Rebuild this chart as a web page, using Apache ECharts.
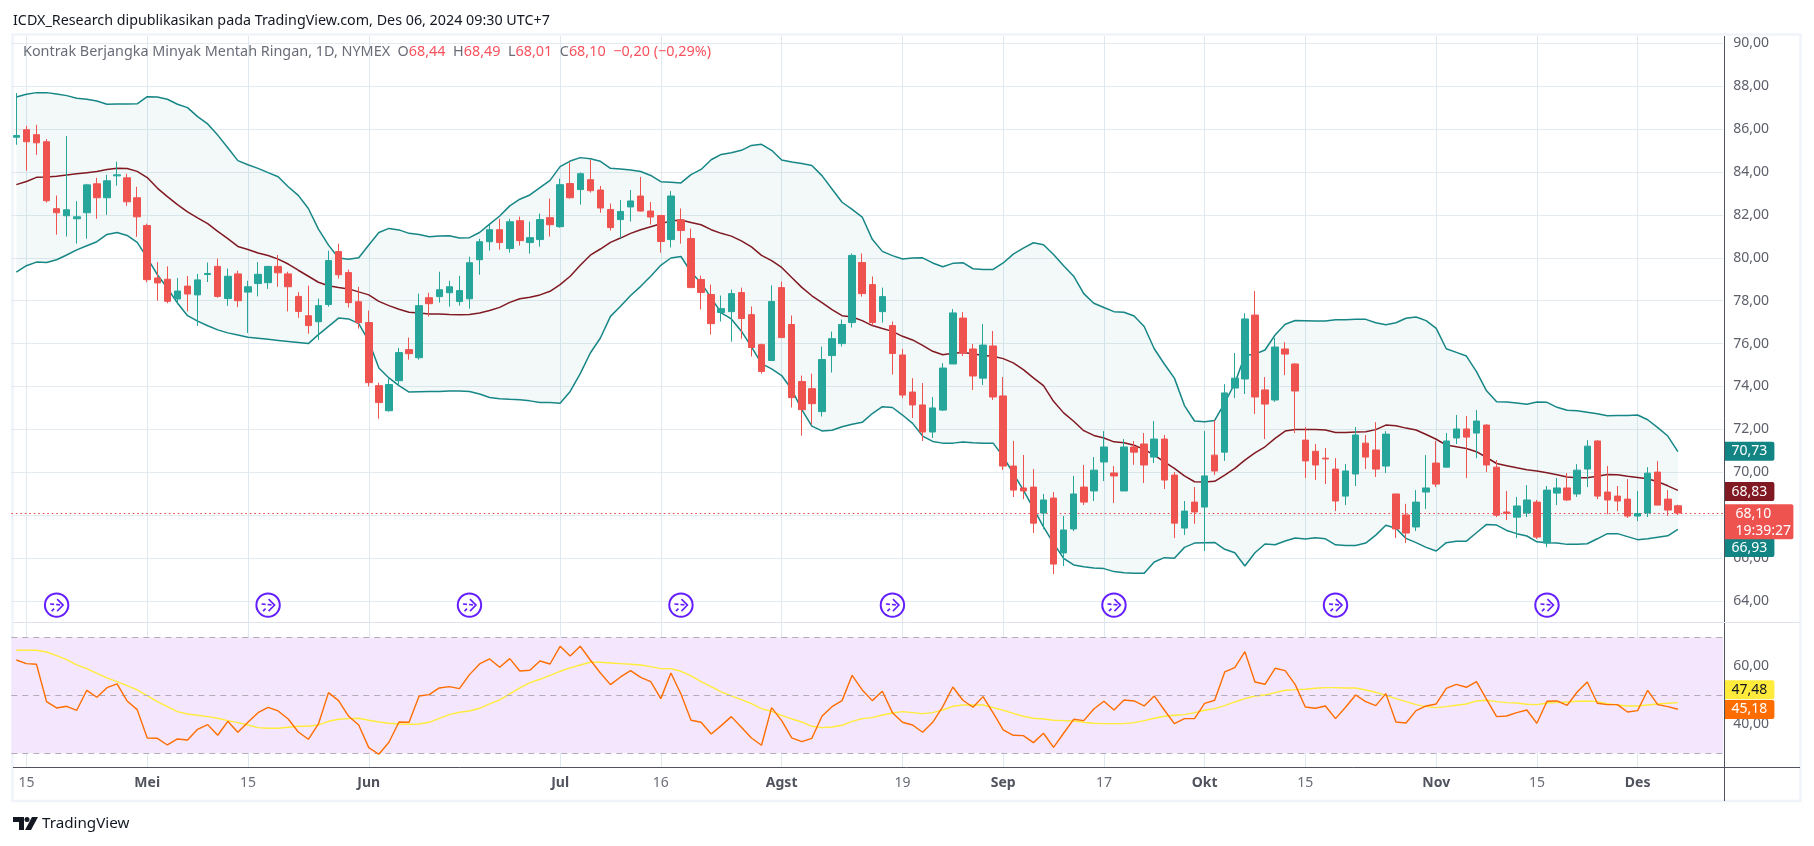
<!DOCTYPE html>
<html><head><meta charset="utf-8">
<style>html,body{margin:0;padding:0;background:#fff}#c{width:1814px;height:846px}</style>
<script src="https://cdn.jsdelivr.net/npm/echarts@6/dist/echarts.min.js"></script>
</head><body><div id="c"></div>
<script>
const opens=[85.62,85.97,85.74,85.41,82.29,81.96,81.82,82.1,83.45,82.8,
83.82,83.73,82.8,81.5,79.06,79.0,78.08,78.68,78.27,79.22,
79.6,78.1,79.25,78.4,78.8,78.84,79.6,79.25,78.2,77.3,
77.02,77.82,80.29,79.31,77.95,76.98,74.04,72.87,74.27,75.72,
75.34,78.14,78.19,78.37,77.96,78.09,79.91,80.75,81.31,80.43,
81.73,80.71,80.85,81.87,81.45,83.46,83.18,83.64,83.16,82.25,
81.78,82.37,82.88,82.18,81.97,80.85,81.77,80.9,78.99,78.29,
77.45,77.49,78.38,77.35,75.95,75.21,78.61,76.89,74.23,73.9,
72.83,75.44,76.0,76.98,79.78,78.75,77.49,76.84,75.47,73.74,
73.14,71.88,72.9,75.05,77.19,75.75,74.39,75.89,73.56,70.29,
69.27,69.31,68.1,68.8,66.24,67.36,69.31,69.13,70.48,69.97,
69.13,71.18,71.32,70.71,71.55,69.87,67.4,68.61,68.38,70.8,
70.94,73.93,74.35,77.33,73.84,73.37,75.75,75.05,71.5,70.98,
70.66,70.15,68.89,69.92,71.36,71.04,70.29,68.99,68.01,67.45,
69.08,70.43,70.24,71.6,72.02,71.83,72.2,70.24,68.15,67.91,
68.1,68.61,66.7,69.03,69.27,68.99,70.15,71.46,69.08,68.89,
68.75,67.96,68.1,70.01,68.75,68.44];
const closes=[85.7,85.41,85.36,82.66,82.1,82.24,81.91,83.4,82.8,83.59,
83.87,82.61,81.91,78.98,78.83,77.97,78.45,78.31,78.97,79.27,
78.2,79.14,78.0,78.65,79.23,79.6,79.3,78.65,77.5,76.84,
77.77,79.87,79.21,77.91,76.98,74.18,73.25,74.09,75.58,75.53,
77.77,77.86,78.51,78.65,78.47,79.77,80.75,81.31,80.71,81.68,
80.8,80.94,81.78,81.54,83.41,82.8,83.92,83.13,82.32,81.41,
82.16,82.65,82.18,81.9,80.76,82.88,81.27,78.61,78.38,76.93,
77.63,78.33,77.17,75.82,74.7,77.96,76.28,73.48,72.92,73.2,
75.26,76.23,76.89,80.11,78.33,76.98,78.19,75.54,73.6,73.14,
71.88,73.0,74.86,77.43,75.56,74.49,75.93,73.51,70.29,69.17,
69.13,67.63,68.71,65.72,67.31,68.99,68.61,70.1,71.18,69.83,
71.18,70.94,70.34,71.55,69.64,67.63,68.19,68.15,69.83,70.06,
73.7,74.39,77.15,73.51,73.18,75.84,75.51,73.79,70.53,70.34,
70.62,68.66,70.06,71.74,70.71,70.15,71.78,67.36,67.17,68.61,
69.27,69.45,71.46,72.02,71.64,72.39,70.34,68.0,68.08,68.43,
68.71,66.98,69.17,69.27,68.71,70.1,71.22,68.89,68.71,68.66,
67.96,68.08,69.96,68.47,68.24,68.10];
const highs=[87.68,86.15,86.2,85.53,82.9,85.68,82.64,83.45,83.73,83.87,
84.48,83.92,83.31,81.59,79.8,79.6,79.06,79.15,79.25,79.78,
79.96,79.5,79.4,78.93,79.8,79.62,80.13,79.35,78.4,78.7,
78.1,80.33,80.66,79.45,78.65,77.54,74.18,74.37,75.8,76.28,
78.33,78.37,79.35,78.93,79.16,80.05,80.89,81.54,81.82,81.82,
81.92,81.68,82.06,82.76,83.69,84.44,83.97,84.57,83.35,82.53,
82.69,83.16,83.77,82.6,82.0,83.11,82.3,81.36,79.17,78.75,
78.24,78.52,78.61,77.73,76.0,78.71,78.89,77.31,74.51,74.6,
75.86,76.56,77.12,80.2,80.2,79.13,78.61,77.03,75.75,74.39,
74.16,73.51,75.09,77.61,77.47,75.98,76.91,76.59,74.44,71.46,
70.81,70.15,68.99,69.08,67.96,69.83,70.34,70.71,71.92,70.29,
71.55,71.46,71.83,72.39,71.74,70.01,68.66,69.31,71.92,72.43,
74.11,75.56,77.42,78.45,74.44,76.26,76.07,75.09,72.11,71.32,
71.13,70.66,70.39,72.11,71.74,72.34,71.92,68.99,68.53,69.17,
70.8,71.46,71.83,72.67,72.62,72.9,72.25,70.57,69.13,68.85,
69.4,68.71,69.36,69.73,69.96,70.38,71.5,71.5,70.29,69.36,
69.68,69.13,70.24,70.52,69.17,68.49];
const lows=[85.27,84.06,84.8,82.57,81.08,80.99,80.66,80.89,81.82,82.0,
83.36,82.42,80.98,78.86,78.0,77.88,77.83,77.5,76.83,78.87,
78.14,77.76,77.7,76.5,78.2,78.55,78.65,77.5,77.2,76.46,
76.18,77.72,79.03,77.68,76.7,74.0,72.5,72.83,74.08,75.25,
75.25,77.26,77.91,77.72,77.77,77.63,79.21,80.33,80.38,80.24,
80.57,80.19,80.52,80.99,81.4,82.76,82.48,83.04,82.1,81.27,
80.9,81.69,82.15,81.55,80.24,80.48,80.66,78.6,77.59,76.42,
77.03,76.09,76.23,75.4,74.6,75.2,76.28,73.02,71.71,72.23,
72.6,74.65,75.86,76.75,78.19,76.84,76.98,74.56,73.46,72.53,
71.46,71.6,72.86,75.05,75.42,73.84,74.07,73.37,70.11,68.85,
68.75,67.17,67.35,65.26,65.63,67.26,68.47,68.66,69.59,68.57,
69.13,70.35,69.5,70.43,69.22,66.93,67.08,67.6,66.33,69.87,
70.53,73.46,73.65,72.72,71.55,73.28,74.53,71.83,69.73,69.64,
69.45,68.19,68.47,69.36,70.15,69.78,69.97,66.94,66.7,67.26,
68.29,69.31,70.24,71.32,69.73,70.66,70.01,67.91,67.77,66.93,
67.91,66.89,66.51,68.47,68.66,68.85,69.31,68.75,68.05,68.19,
67.87,67.73,67.91,68.47,67.96,68.01];
const bbUpper=[87.5,87.62,87.7,87.7,87.64,87.56,87.44,87.39,87.31,87.16,
87.17,87.17,87.18,87.51,87.5,87.39,87.16,87.0,86.58,86.24,
85.72,85.13,84.53,84.34,84.17,83.97,83.78,83.31,82.91,82.3,
81.34,80.59,79.99,79.93,80.0,80.6,81.18,81.37,81.3,81.14,
81.09,80.98,81.02,81.03,80.92,80.94,81.18,81.57,81.95,82.42,
82.73,82.93,83.27,83.61,84.25,84.51,84.67,84.62,84.5,84.17,
84.14,84.09,84.02,83.84,83.55,83.52,83.49,83.88,84.12,84.57,
84.82,84.9,85.01,85.24,85.29,85.01,84.56,84.47,84.4,84.3,
83.83,83.21,82.59,82.26,81.9,80.86,80.3,80.1,79.94,79.99,
80.0,79.76,79.58,79.74,79.77,79.49,79.46,79.46,79.76,80.17,
80.45,80.7,80.61,80.15,79.63,79.14,78.33,77.88,77.68,77.49,
77.46,77.29,76.8,75.76,75.05,74.39,73.11,72.39,72.36,72.42,
73.24,74.15,75.44,75.51,75.7,76.4,76.9,77.08,77.07,77.05,
77.05,77.11,77.11,77.13,77.13,76.97,76.88,76.97,77.18,77.24,
77.07,76.71,75.76,75.59,75.42,74.69,73.8,73.29,73.28,73.23,
73.17,73.28,73.26,73.03,72.89,72.87,72.8,72.73,72.64,72.65,
72.65,72.67,72.45,72.08,71.69,70.96];
const bbBasis=[83.41,83.56,83.75,83.77,83.8,83.86,83.92,83.97,84.02,84.12,
84.17,84.16,84.03,83.74,83.25,82.85,82.48,82.14,81.86,81.59,
81.23,80.89,80.53,80.39,80.22,80.11,79.94,79.71,79.42,79.14,
78.86,78.7,78.62,78.55,78.41,78.27,77.97,77.77,77.6,77.46,
77.43,77.38,77.38,77.36,77.35,77.36,77.43,77.54,77.69,77.92,
78.09,78.16,78.27,78.44,78.75,79.14,79.65,80.12,80.41,80.72,
80.92,81.14,81.31,81.45,81.59,81.72,81.76,81.65,81.54,81.31,
81.14,81.01,80.79,80.51,80.11,79.87,79.55,79.08,78.62,78.23,
77.91,77.58,77.3,77.24,77.07,76.84,76.7,76.57,76.34,76.17,
75.92,75.64,75.48,75.55,75.59,75.53,75.44,75.41,75.3,75.1,
74.79,74.4,74.04,73.31,72.77,72.38,71.94,71.72,71.6,71.42,
71.38,71.26,71.07,70.8,70.49,70.18,69.83,69.56,69.55,69.58,
69.87,70.18,70.57,70.91,71.19,71.58,71.92,72.0,72.0,72.0,
71.97,71.86,71.86,71.88,71.89,71.99,72.2,72.17,72.06,71.97,
71.76,71.54,71.27,71.19,71.11,70.96,70.69,70.41,70.31,70.21,
70.12,70.06,69.98,69.89,69.78,69.75,69.75,69.82,69.9,69.89,
69.82,69.76,69.7,69.56,69.37,69.16];
const bbLower=[79.33,79.63,79.8,79.78,79.91,80.13,80.37,80.56,80.75,81.09,
81.18,81.04,80.72,80.0,79.21,78.59,77.89,77.3,77.05,76.83,
76.64,76.5,76.4,76.3,76.25,76.2,76.15,76.1,76.05,76.0,
76.42,76.8,77.19,77.15,76.93,76.11,74.86,74.4,74.04,73.74,
73.76,73.77,73.77,73.79,73.79,73.77,73.65,73.49,73.43,73.4,
73.38,73.33,73.25,73.25,73.22,73.77,74.6,75.56,76.26,77.27,
77.74,78.24,78.67,79.14,79.65,79.99,80.06,79.33,78.83,78.13,
77.43,77.15,76.58,75.85,75.07,74.82,74.51,73.86,72.92,72.15,
71.93,71.96,72.12,72.24,72.33,72.74,73.06,73.02,72.67,72.28,
71.69,71.44,71.36,71.36,71.41,71.38,71.36,71.36,70.73,69.95,
69.17,68.32,67.46,66.69,65.99,65.68,65.6,65.54,65.51,65.37,
65.32,65.29,65.29,65.82,66.02,65.99,66.5,66.7,66.72,66.73,
66.41,66.25,65.63,66.25,66.66,66.62,66.8,66.94,66.89,66.95,
66.9,66.62,66.59,66.59,66.7,67.07,67.53,67.39,66.92,66.72,
66.5,66.33,66.72,66.78,66.79,67.18,67.57,67.54,67.29,67.14,
67.03,66.76,66.72,66.7,66.64,66.64,66.67,66.9,67.14,67.14,
67.0,66.86,66.9,66.97,67.04,67.34];
const rsi=[62.18,60.92,60.69,47.82,45.63,46.2,44.83,51.72,49.31,52.64,
53.91,48.05,45.06,35.29,35.17,32.87,34.94,34.6,38.28,39.89,
36.21,41.03,37.24,40.69,44.02,45.86,44.6,41.84,37.36,34.83,
40.11,50.92,48.16,42.76,39.77,31.95,29.66,33.79,40.8,40.69,
49.77,50.23,52.53,52.99,52.3,57.13,60.8,62.53,59.66,62.64,
58.39,58.62,61.84,60.8,66.9,63.56,66.9,62.18,57.7,53.68,
56.32,58.5,56.2,54.71,48.85,57.7,50.46,41.38,40.69,36.67,
39.54,42.64,38.97,35.29,32.76,45.75,41.26,35.29,34.02,35.17,
42.76,46.09,48.16,56.9,51.84,48.16,51.38,44.02,40.69,39.77,
37.24,40.69,46.09,52.87,48.28,45.86,49.54,43.91,38.05,36.21,
36.09,33.68,36.9,32.07,36.9,41.72,41.26,45.29,47.93,44.94,
48.39,48.05,46.32,49.77,44.94,40.23,41.95,41.95,47.24,48.28,
58.05,59.54,65.06,54.6,53.79,59.31,58.51,53.68,45.98,45.52,
46.32,41.95,45.86,50.11,47.82,46.44,50.57,40.8,40.46,44.71,
46.32,47.01,52.41,53.79,52.76,54.71,48.62,42.64,42.87,44.02,
44.94,40.34,47.93,48.05,46.55,51.15,54.6,47.24,46.78,46.78,
44.25,44.71,51.72,46.78,46.09,45.18];
const rsiMa=[65.52,65.52,65.52,64.94,63.68,62.3,60.46,59.2,57.59,55.98,
54.71,53.33,51.84,49.89,47.82,46.09,44.37,43.56,43.1,42.64,
42.07,41.26,40.57,39.77,38.85,38.62,38.62,38.97,39.31,39.31,
39.77,41.03,41.72,41.95,42.07,41.38,40.8,40.34,40.11,40.0,
40.11,40.69,42.07,43.33,44.14,44.6,45.52,47.01,48.39,50.46,
52.53,54.37,55.52,56.9,58.28,59.43,60.46,61.38,61.38,61.15,
60.92,60.69,60.46,59.89,59.2,59.2,58.28,56.67,54.71,52.99,
51.15,49.77,48.51,47.13,45.4,44.48,43.1,41.84,40.8,39.31,
38.85,39.08,39.66,41.03,41.95,42.3,43.22,43.91,44.37,44.02,
43.68,44.02,44.94,46.2,46.67,46.67,46.67,45.75,44.83,43.79,
42.76,42.07,41.84,41.38,41.26,41.15,40.69,40.34,40.23,40.23,
40.23,40.57,41.26,42.07,42.76,43.1,43.33,44.02,44.83,45.4,
46.44,47.7,48.85,49.77,50.11,50.92,51.72,51.95,52.07,52.41,
52.64,52.64,52.53,52.53,51.84,51.03,50.0,48.85,47.82,46.78,
46.09,45.75,46.09,46.55,47.01,48.05,48.28,47.82,47.47,47.36,
46.9,46.78,47.36,47.47,47.7,47.93,48.05,47.82,47.13,46.67,
46.32,46.32,46.67,47.01,47.24,47.48];
const labelBars=[1,13,23,35,54,64,76,88,98,108,118,128,141,151,161];
const labelTexts=['15','Mei','15','Jun','Jul','16','Agst','19','Sep','17','Okt','15','Nov','15','Des'];
const monthLabels=['Mei','Jun','Jul','Agst','Sep','Okt','Nov','Des'];
const rolloverBars=[4,25,45,66,87,109,131,152];
const rolloverLevel=63.81;
const priceTicks=[64,66,68,70,72,74,76,78,80,82,84,86,88,90];
const rsiTicks=[40,60];
const rsiLevels=[30,50,70];
const priceTags=[[70.98,'70,73','#138484','#fff'],[69.1,'68,83','#801922','#fff'],[66.49,'66,93','#138484','#fff']];
const rsiTags=[[51.9,'47,48','#ffeb3b','#131722'],[45.1,'45,18','#ff6d00','#fff']];
const lastTag=[67.7,'68,10','19:39:27'];
const FONT='"Noto Sans"';
const BARS=170;
const cats=[];const names={};
labelBars.forEach((b,i)=>names[b]=labelTexts[i]);
for(let i=0;i<BARS;i++)cats.push(names[i]||'');
const isLabeled=(i)=>names[i]!==undefined;
const fmt=v=>v.toFixed(2).replace('.',',');
const chart=echarts.init(document.getElementById('c'),null,{renderer:'canvas',width:1814,height:846});
const left=11.3,bandW=1711.9;
const GRID_V='#dfe8ef',GRID_H='#e3ebf0';
function tagItem(params,api,val,text,bg,fg){
  const cs=params.coordSys,p=api.coord([0,val]);
  const x=cs.x+cs.width+1.2,w=50,h=19;
  return {type:'group',children:[
    {type:'rect',shape:{x:x,y:p[1]-h/2,width:w,height:h,r:[0,2,2,0]},style:{fill:bg}},
    {type:'text',style:{x:x+25,y:p[1],text:text,fill:fg,font:'14px '+FONT,textAlign:'center',textVerticalAlign:'middle'}}
  ]};
}
const xBase=(idx,show)=>({type:'category',gridIndex:idx,data:cats,boundaryGap:true,
  axisLine:{show:false},
  axisTick:{show:false,interval:(i)=>isLabeled(i),alignWithLabel:true},
  splitLine:{show:true,interval:(i)=>isLabeled(i),alignWithLabel:true,lineStyle:{color:GRID_V,width:1}},
  axisLabel:show?{show:true,interval:(i)=>isLabeled(i),margin:9,fontFamily:FONT,fontSize:14,color:'#6a6d78',
    hideOverlap:false,
    formatter:(v)=>monthLabels.includes(v)?'{m|'+v+'}':v,
    rich:{m:{fontFamily:FONT,fontSize:14,fontWeight:'bold',color:'#50535e'}}}:{show:false}});
const yBase=(idx,min,max,ticks)=>({type:'value',gridIndex:idx,position:'right',min:min,max:max,scale:true,
  axisLine:{show:false},
  axisTick:{show:false,customValues:ticks},
  splitLine:{show:true,lineStyle:{color:GRID_H,width:1}},
  axisLabel:{show:true,customValues:ticks,margin:10,fontFamily:FONT,fontSize:14,color:'#5d606b',formatter:fmt}});
const lineS=(name,data,color,w,xi,z)=>({name:name,type:'line',data:data,xAxisIndex:xi,yAxisIndex:xi,showSymbol:false,
  smooth:false,silent:true,z:z,lineStyle:{color:color,width:w},itemStyle:{color:color},animation:false});
const last=closes[closes.length-1];
const option={
  animation:false,backgroundColor:'#fff',
  title:[
   {text:'ICDX_Research dipublikasikan pada TradingView.com, Des 06, 2024 09:30 UTC+7',left:13,top:14,padding:0,
    textStyle:{fontFamily:FONT,fontSize:14.3,fontWeight:'normal',color:'#131722'}},
   {text:'Kontrak Berjangka Minyak Mentah Ringan, 1D, NYMEX  O{r|68,44}  H{r|68,49}  L{r|68,01}  C{r|68,10}  {r|\u22120,20 (\u22120,29%)}',left:23,top:45,padding:0,
    textStyle:{fontFamily:FONT,fontSize:14.4,fontWeight:'normal',color:'#6a6d78',rich:{r:{fontFamily:FONT,fontSize:14.4,color:'#f7525f'}}}},
   {text:'TradingView',left:42,top:816,padding:0,textStyle:{fontFamily:FONT,fontSize:15.2,fontWeight:'normal',color:'#131722'}}
  ],
  grid:[{left:left,width:bandW,top:36,height:586.3,containLabel:false},
        {left:left,width:bandW,top:622.3,height:145,containLabel:false}],
  xAxis:[xBase(0,false),xBase(1,true)],
  yAxis:[yBase(0,63.007,90.34,priceTicks),yBase(1,25.17,75.17,rsiTicks)],
  graphic:[
   {type:'rect',z:-1,silent:true,shape:{x:12.5,y:34.5,width:1788,height:766.5},style:{fill:'none',stroke:'#f0f3fa',lineWidth:2.5}},
   {type:'line',z:100,silent:true,shape:{x1:1724.5,y1:36,x2:1724.5,y2:801},style:{stroke:'#50535e',lineWidth:1}},
   {type:'line',z:100,silent:true,shape:{x1:13,y1:767.5,x2:1800,y2:767.5},style:{stroke:'#50535e',lineWidth:1}},
   {type:'line',z:100,silent:true,shape:{x1:13,y1:622.5,x2:1800,y2:622.5},style:{stroke:'#e0e3eb',lineWidth:1}},
   {type:'polygon',silent:true,shape:{points:[[13,817],[24,817],[24,830],[19,830],[19,822],[13,822]]},style:{fill:'#131722'}},
   {type:'circle',silent:true,shape:{cx:27,cy:819.5,r:2.5},style:{fill:'#131722'}},
   {type:'polygon',silent:true,shape:{points:[[32,817],[38,817],[31,830],[25,830]]},style:{fill:'#131722'}}
  ],
  series:[
   {type:'custom',xAxisIndex:0,yAxisIndex:0,silent:true,z:1,clip:true,data:[0],
    renderItem:(p,api)=>{
      const pts=[];
      for(let i=0;i<bbUpper.length;i++)pts.push(api.coord([i,bbUpper[i]]));
      for(let i=bbLower.length-1;i>=0;i--)pts.push(api.coord([i,bbLower[i]]));
      return {type:'polygon',shape:{points:pts},style:{fill:'rgba(33,150,143,0.055)'}};
    }},
   lineS('BB upper',bbUpper,'#178686',1.5,0,3),
   lineS('BB lower',bbLower,'#178686',1.5,0,3),
   lineS('BB basis',bbBasis,'#801922',1.5,0,3),
   {name:'Price',type:'candlestick',xAxisIndex:0,yAxisIndex:0,z:5,silent:true,barWidth:7,
    data:opens.map((o,i)=>[o,closes[i],lows[i],highs[i]]),
    itemStyle:{color:'#26a69a',color0:'#ef5350',borderColor:'#26a69a',borderColor0:'#ef5350',borderColorDoji:null,borderWidth:1},
    markLine:{silent:true,symbol:'none',animation:false,label:{show:false},
      lineStyle:{color:'#ef3a3a',type:[1.5,3],width:1.2},data:[{yAxis:last}]}},
   {type:'custom',xAxisIndex:0,yAxisIndex:0,silent:true,z:6,
    data:rolloverBars.map(b=>[b,rolloverLevel]),
    renderItem:(p,api)=>{
      const c=api.coord([api.value(0),api.value(1)]),x=c[0],y=c[1],s={stroke:'#651fff',lineWidth:1.6,fill:'none'};
      return {type:'group',children:[
        {type:'circle',shape:{cx:x,cy:y,r:11.7},style:{stroke:'#651fff',lineWidth:2,fill:'#fff'}},
        {type:'polyline',shape:{points:[[x+0.5,y-6],[x+6.5,y],[x+0.5,y+6]]},style:s},
        {type:'line',shape:{x1:x-6.5,y1:y-1,x2:x+6,y2:y},style:Object.assign({},s,{lineDash:[4,2]})},
        {type:'line',shape:{x1:x-5,y1:y+6,x2:x-2.5,y2:y+3.5},style:s}
      ]};
    }},
   {type:'custom',xAxisIndex:0,yAxisIndex:0,silent:true,z:20,clip:false,
    data:priceTags.map((t,i)=>[i,t[0]]),
    renderItem:(p,api)=>{const t=priceTags[p.dataIndex];return tagItem(p,api,t[0],t[1],t[2],t[3]);}},
   {type:'custom',xAxisIndex:0,yAxisIndex:0,silent:true,z:21,clip:false,data:[[0,lastTag[0]]],
    renderItem:(p,api)=>{
      const cs=p.coordSys,c=api.coord([0,lastTag[0]]),x=cs.x+cs.width+1.2,w=69,h=35;
      return {type:'group',children:[
        {type:'rect',shape:{x:x,y:c[1]-h/2,width:w,height:h,r:[0,2,2,0]},style:{fill:'#ef5350'}},
        {type:'text',style:{x:x+11,y:c[1]-8,text:lastTag[1],fill:'#fff',font:'14px '+FONT,textVerticalAlign:'middle'}},
        {type:'text',style:{x:x+11,y:c[1]+9,text:lastTag[2],fill:'#fff',font:'14px '+FONT,textVerticalAlign:'middle'}}
      ]};
    }},
   Object.assign(lineS('RSI-MA',rsiMa,'#ffeb3b',1.4,1,4),{
     markArea:{silent:true,animation:false,itemStyle:{color:'#f4e7fd'},data:[[{yAxis:rsiLevels[0]},{yAxis:rsiLevels[2]}]]},
     markLine:{silent:true,symbol:'none',animation:false,label:{show:false},
       lineStyle:{color:'#b2abb8',type:[6,5],width:1},data:rsiLevels.map(v=>({yAxis:v}))}
   }),
   lineS('RSI',rsi,'#ff6d00',1.4,1,5),
   {type:'custom',xAxisIndex:1,yAxisIndex:1,silent:true,z:20,clip:false,
    data:rsiTags.map((t,i)=>[i,t[0]]),
    renderItem:(p,api)=>{const t=rsiTags[p.dataIndex];return tagItem(p,api,t[0],t[1],t[2],t[3]);}}
  ]
};
chart.setOption(option);
</script></body></html>
